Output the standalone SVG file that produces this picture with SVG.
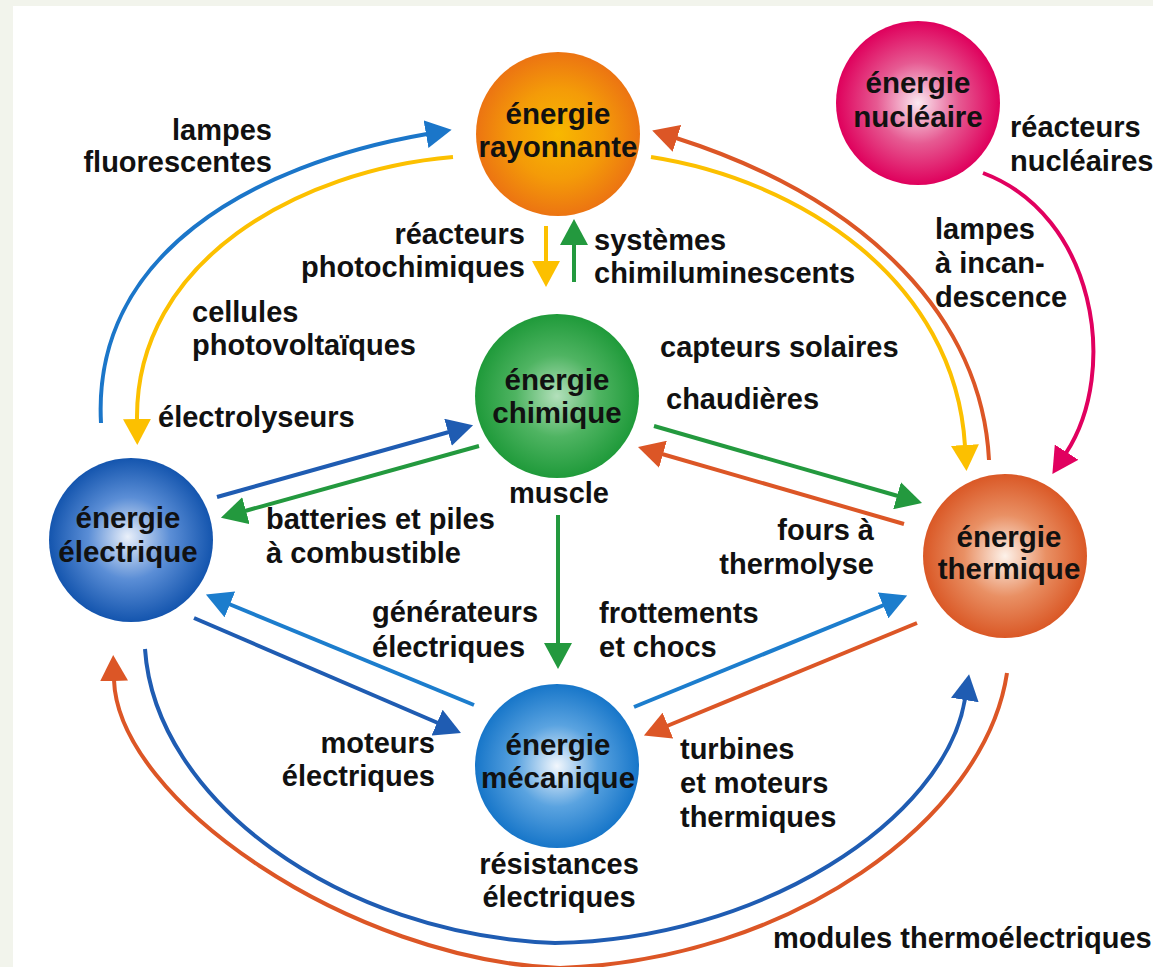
<svg xmlns="http://www.w3.org/2000/svg" width="1153" height="967" viewBox="0 0 1153 967">
<style>
text{font-family:"Liberation Sans",Arial,sans-serif;font-weight:bold;fill:#111;}
.lbl{font-size:29px;}
.nt{font-size:29.5px;text-anchor:middle;}
.e{text-anchor:end;}
.m{text-anchor:middle;}
.c{fill:none;stroke-width:4;}
.blue{stroke:#1b76c9;}
.dblue{stroke:#1f5cb2;}
.lblue{stroke:#1c7dcd;}
.yel{stroke:#fcc000;}
.org{stroke:#dc5626;}
.grn{stroke:#23993e;}
.mag{stroke:#e1005f;}
</style>
<defs>
<marker id="aBlue" viewBox="0 0 26 28" refX="1" refY="14" markerWidth="26" markerHeight="28" markerUnits="userSpaceOnUse" orient="auto"><path d="M0,0 L26,14 L0,28 z" fill="#1b76c9"/></marker>
<marker id="aDBlue" viewBox="0 0 26 28" refX="1" refY="14" markerWidth="26" markerHeight="28" markerUnits="userSpaceOnUse" orient="auto"><path d="M0,0 L26,14 L0,28 z" fill="#1f5cb2"/></marker>
<marker id="aLBlue" viewBox="0 0 26 28" refX="1" refY="14" markerWidth="26" markerHeight="28" markerUnits="userSpaceOnUse" orient="auto"><path d="M0,0 L26,14 L0,28 z" fill="#1c7dcd"/></marker>
<marker id="aYel" viewBox="0 0 26 28" refX="1" refY="14" markerWidth="26" markerHeight="28" markerUnits="userSpaceOnUse" orient="auto"><path d="M0,0 L26,14 L0,28 z" fill="#fcc000"/></marker>
<marker id="aOrg" viewBox="0 0 26 28" refX="1" refY="14" markerWidth="26" markerHeight="28" markerUnits="userSpaceOnUse" orient="auto"><path d="M0,0 L26,14 L0,28 z" fill="#dc5626"/></marker>
<marker id="aGrn" viewBox="0 0 26 28" refX="1" refY="14" markerWidth="26" markerHeight="28" markerUnits="userSpaceOnUse" orient="auto"><path d="M0,0 L26,14 L0,28 z" fill="#23993e"/></marker>
<marker id="aMag" viewBox="0 0 26 28" refX="1" refY="14" markerWidth="26" markerHeight="28" markerUnits="userSpaceOnUse" orient="auto"><path d="M0,0 L26,14 L0,28 z" fill="#e1005f"/></marker>
<radialGradient id="gRay" cx="50%" cy="50%" r="50%"><stop offset="0" stop-color="#f8b800"/><stop offset="0.55" stop-color="#f49b08"/><stop offset="1" stop-color="#ec7412"/></radialGradient>
<radialGradient id="gChi" cx="50%" cy="50%" r="50%"><stop offset="0" stop-color="#b3e0bb"/><stop offset="0.5" stop-color="#4fb462"/><stop offset="1" stop-color="#1f9a3a"/></radialGradient>
<radialGradient id="gEle" cx="50%" cy="50%" r="50%" fx="48%" fy="48%"><stop offset="0" stop-color="#eaf0fa"/><stop offset="0.5" stop-color="#5b8ed6"/><stop offset="1" stop-color="#1455ae"/></radialGradient>
<radialGradient id="gMec" cx="50%" cy="50%" r="50%"><stop offset="0" stop-color="#f2f7fd"/><stop offset="0.5" stop-color="#5aa3e0"/><stop offset="1" stop-color="#1776c9"/></radialGradient>
<radialGradient id="gThe" cx="50%" cy="50%" r="50%"><stop offset="0" stop-color="#fdf2ea"/><stop offset="0.5" stop-color="#e99064"/><stop offset="1" stop-color="#da5826"/></radialGradient>
<radialGradient id="gNuc" cx="50%" cy="50%" r="50%"><stop offset="0" stop-color="#fbe8f0"/><stop offset="0.5" stop-color="#e65a92"/><stop offset="1" stop-color="#df005c"/></radialGradient>
</defs>
<rect x="0" y="0" width="1153" height="967" fill="#f2f4ec"/>
<rect x="13" y="6" width="1140" height="961" fill="#ffffff"/>

<g id="connectors">
<path class="c blue" d="M101,423 C92,255 250,165 427,134" marker-end="url(#aBlue)"/>
<path class="c yel" d="M453,157 C300,170 135,260 137,420" marker-end="url(#aYel)"/>
<path class="c yel" d="M651,157 C800,180 955,280 965,446" marker-end="url(#aYel)"/>
<path class="c org" d="M989,460 C982,320 870,200 676,138" marker-end="url(#aOrg)"/>
<path class="c mag" d="M983,173 C1095,215 1120,370 1066,453" marker-end="url(#aMag)"/>
<path class="c yel" d="M546,226 L546,262" marker-end="url(#aYel)"/>
<path class="c grn" d="M574,282 L574,244" marker-end="url(#aGrn)"/>
<path class="c dblue" d="M217,497 L449,432" marker-end="url(#aDBlue)"/>
<path class="c grn" d="M479,446 L245,511" marker-end="url(#aGrn)"/>
<path class="c grn" d="M654,426 L898,496" marker-end="url(#aGrn)"/>
<path class="c org" d="M904,524 L662,454" marker-end="url(#aOrg)"/>
<path class="c grn" d="M558,515 L558,644" marker-end="url(#aGrn)"/>
<path class="c lblue" d="M474,705 L229,604" marker-end="url(#aLBlue)"/>
<path class="c dblue" d="M194,618 L438,723" marker-end="url(#aDBlue)"/>
<path class="c lblue" d="M634,707 L884,605" marker-end="url(#aLBlue)"/>
<path class="c org" d="M917,623 L667,726" marker-end="url(#aOrg)"/>
<path class="c dblue" d="M145,649 C155,800 340,935 555,943 C760,940 945,820 965,699" marker-end="url(#aDBlue)"/>
<path class="c org" d="M1007,673 C985,820 790,960 560,968 C350,960 118,800 114,680" marker-end="url(#aOrg)"/>
</g>

<g id="node-rayonnante">
<circle cx="558" cy="134" r="82" fill="url(#gRay)"/>
<text class="nt" x="558" y="124">énergie</text>
<text class="nt" x="558" y="157">rayonnante</text>
</g>
<g id="node-nucleaire">
<circle cx="918" cy="103" r="82" fill="url(#gNuc)"/>
<text class="nt" x="918" y="93">énergie</text>
<text class="nt" x="918" y="127">nucléaire</text>
</g>
<g id="node-chimique">
<circle cx="557" cy="396" r="82" fill="url(#gChi)"/>
<text class="nt" x="557" y="390">énergie</text>
<text class="nt" x="557" y="423">chimique</text>
</g>
<g id="node-electrique">
<circle cx="131" cy="540" r="82" fill="url(#gEle)"/>
<text class="nt" x="128" y="528">énergie</text>
<text class="nt" x="128" y="562">électrique</text>
</g>
<g id="node-thermique">
<circle cx="1005" cy="556" r="82" fill="url(#gThe)"/>
<text class="nt" x="1009" y="547">énergie</text>
<text class="nt" x="1009" y="579">thermique</text>
</g>
<g id="node-mecanique">
<circle cx="557" cy="766" r="82" fill="url(#gMec)"/>
<text class="nt" x="558" y="755">énergie</text>
<text class="nt" x="558" y="788">mécanique</text>
</g>

<g id="labels" class="lbl">
<text class="lbl e" x="272" y="140">lampes</text>
<text class="lbl e" x="272" y="172">fluorescentes</text>
<text class="lbl e" x="525" y="244">réacteurs</text>
<text class="lbl e" x="525" y="277">photochimiques</text>
<text class="lbl" x="594" y="250">systèmes</text>
<text class="lbl" x="594" y="283">chimiluminescents</text>
<text class="lbl" x="192" y="322">cellules</text>
<text class="lbl" x="192" y="355">photovoltaïques</text>
<text class="lbl" x="158" y="427">électrolyseurs</text>
<text class="lbl" x="660" y="357">capteurs solaires</text>
<text class="lbl" x="666" y="409">chaudières</text>
<text class="lbl m" x="559" y="503">muscle</text>
<text class="lbl" x="266" y="529">batteries et piles</text>
<text class="lbl" x="266" y="563">à combustible</text>
<text class="lbl e" x="874" y="540">fours à</text>
<text class="lbl e" x="874" y="574">thermolyse</text>
<text class="lbl" x="372" y="622">générateurs</text>
<text class="lbl" x="372" y="657">électriques</text>
<text class="lbl" x="599" y="623">frottements</text>
<text class="lbl" x="599" y="657">et chocs</text>
<text class="lbl e" x="435" y="753">moteurs</text>
<text class="lbl e" x="435" y="786">électriques</text>
<text class="lbl" x="680" y="759">turbines</text>
<text class="lbl" x="680" y="793">et moteurs</text>
<text class="lbl" x="680" y="827">thermiques</text>
<text class="lbl m" x="559" y="874">résistances</text>
<text class="lbl m" x="559" y="907">électriques</text>
<text class="lbl" x="773" y="948">modules thermoélectriques</text>
<text class="lbl" x="1010" y="137">réacteurs</text>
<text class="lbl" x="1010" y="171">nucléaires</text>
<text class="lbl" x="935" y="239">lampes</text>
<text class="lbl" x="935" y="273">à incan-</text>
<text class="lbl" x="935" y="307">descence</text>
</g>
</svg>
